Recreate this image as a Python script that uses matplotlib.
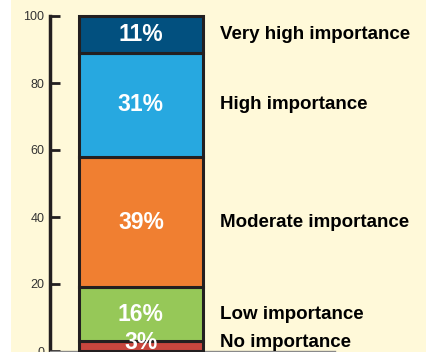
import matplotlib.pyplot as plt
import matplotlib.patches as mpatches

# importance levels, bottom to top
niveis = ["No importance", "Low importance", "Moderate importance",
          "High importance", "Very high importance"]
valores = [3, 16, 39, 31, 11]
cores = ["#C8463E", "#96C858", "#F07F31", "#27A8E0", "#02507F"]

fundo = "#FFF9D9"
borda = "#231F20"

fig = plt.figure(figsize=(4.27, 3.52), dpi=100)
fig.patch.set_facecolor("white")
# creme background, with the thin white strip on the left
fig.patches.append(mpatches.Rectangle((11 / 427, 0), 1, 1, transform=fig.transFigure,
                                      facecolor=fundo, edgecolor="none", zorder=-10))

ax = fig.add_axes([50 / 427, 1 / 352, 285 / 427, 335 / 352])
ax.set_facecolor(fundo)
ax.patch.set_alpha(0)

ax.set_xlim(0, 1)
ax.set_ylim(0, 100)

base = 0
for nome, v, c in zip(niveis, valores, cores):
    ax.bar(0.319, v, width=0.435, bottom=base, color=c, edgecolor=borda,
           linewidth=2.2, zorder=3, clip_on=False)
    y = max(base + v / 2, 2.6)
    ax.text(0.319, y, f"{v}%", ha="center", va="center", color="white",
            fontsize=16.5, fontweight="bold", family="Liberation Sans", zorder=4)
    ax.text(0.596, y, nome, ha="left", va="center", color="black",
            fontsize=13.5, fontweight="bold", family="Liberation Sans", clip_on=False)
    base += v

ax.set_yticks([0, 20, 40, 60, 80, 100])
ax.set_xticks([])
ax.tick_params(axis="y", direction="in", length=7, width=2, color=borda,
               labelsize=9, labelcolor="#333333", pad=4)
for t in ax.get_yticklabels():
    t.set_family("Liberation Sans")

ax.spines["left"].set_color(borda)
ax.spines["left"].set_linewidth(2.5)
ax.spines["bottom"].set_color("#8a8a8a")
ax.spines["bottom"].set_linewidth(1)
ax.spines["top"].set_visible(False)
ax.spines["right"].set_visible(False)

plt.savefig("out.png", dpi=100, facecolor=fig.get_facecolor())
